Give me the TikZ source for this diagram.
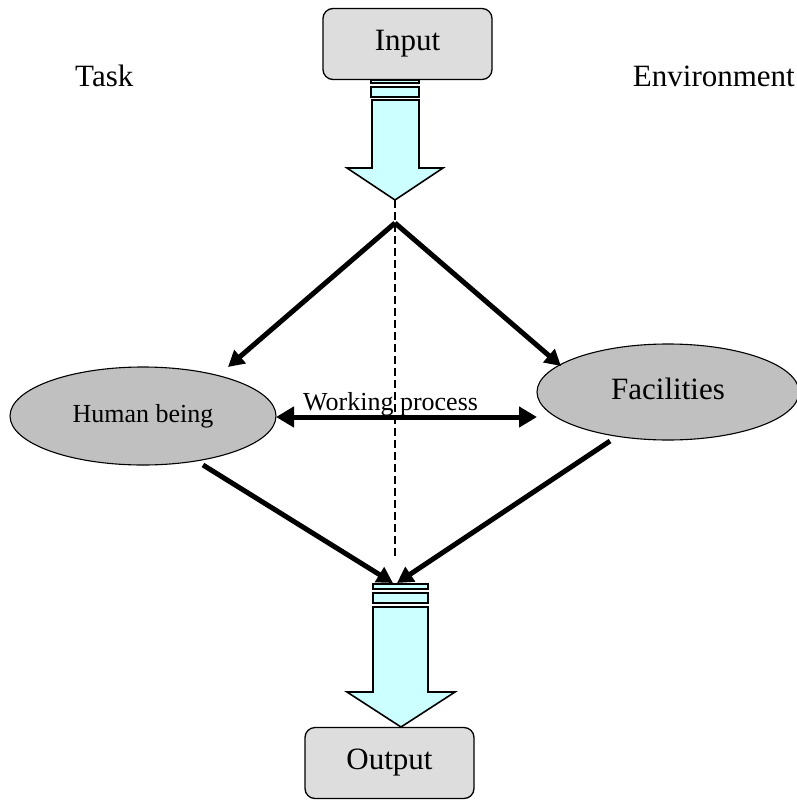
\documentclass[tikz,border=0pt]{standalone}
\usepackage{fontspec}
\setmainfont{Liberation Serif}
\usetikzlibrary{arrows.meta,shapes.geometric}
\definecolor{boxgray}{HTML}{DDDDDD}
\definecolor{ellgray}{HTML}{C0C0C0}
\definecolor{flowcyan}{HTML}{CCFFFF}

\begin{document}
\begin{tikzpicture}[x=1pt,y=-1pt,
  termbox/.style={draw, line width=1.3pt, rounded corners=10pt, fill=boxgray,
    minimum width=169pt, minimum height=71pt, inner sep=0pt,
    font=\fontsize{31}{36}\selectfont},
  agent/.style={draw, line width=1.1pt, ellipse, fill=ellgray, inner sep=0pt},
  bigtext/.style={inner sep=0pt, font=\fontsize{31}{36}\selectfont},
  smalltext/.style={inner sep=0pt, font=\fontsize{26}{30}\selectfont},
  blockarrow/.style={draw, line width=1.6pt, fill=flowcyan, line join=miter},
  flow/.style={line width=5pt, -{Triangle[length=16pt,width=17pt]}},
  twoway/.style={line width=5pt, {Triangle[length=18pt,width=20pt]}-{Triangle[length=18pt,width=20pt]}},
  guide/.style={line width=2pt, dash pattern=on 8pt off 4pt}
]
\useasboundingbox (0,0) rectangle (796,800);

% labels of the two domains
\node[bigtext, anchor=base west] (task) at (75,86) {Task};
\node[bigtext, anchor=base east] (env) at (795,86) {Environment};

% input and output terminals
\node[termbox] (in) at (407.5,44) {Input};
\node[termbox] (out) at (389.5,763) {Output};

% the two actors
\node[agent, minimum width=266pt, minimum height=98pt, font=\fontsize{26}{30}\selectfont]
  (hb) at (143,416) {\raisebox{6pt}{Human being}};
\node[agent, minimum width=262pt, minimum height=96pt, font=\fontsize{31}{36}\selectfont]
  (fac) at (668,392) {\raisebox{7pt}{Facilities}};

% block arrow below the input
\draw[blockarrow] (371,80) rectangle (419,83);
\draw[blockarrow] (371,87) rectangle (419,97);
\draw[blockarrow] (372,100) -- (419,100) -- (419,168) -- (443,168) -- (395,200)
  -- (347,168) -- (372,168) -- cycle;

% block arrow above the output
\draw[blockarrow] (373,584) rectangle (428,589);
\draw[blockarrow] (373,593) rectangle (428,603);
\draw[blockarrow] (373,607) -- (428,607) -- (428,692) -- (455,692) -- (401,727)
  -- (347,692) -- (373,692) -- cycle;

% connector end points
\coordinate (inTip) at (395,200);
\coordinate (guideEnd) at (395,557);
\coordinate (fork) at (395,223);
\coordinate (hbIn) at (228,367);
\coordinate (facIn) at (561,366);
\coordinate (hbOut) at (203,465);
\coordinate (facOut) at (610,441);
\coordinate (joinL) at (393,583);
\coordinate (joinR) at (397,583);
\coordinate (wpL) at (276,417);
\coordinate (wpR) at (537,417);

% dashed guide line through the centre
\draw[guide] (inTip) -- (guideEnd);

% flows between the actors
\draw[flow] (fork) -- (hbIn);
\draw[flow] (fork) -- (facIn);
\draw[flow] (hbOut) -- (joinL);
\draw[flow] (facOut) -- (joinR);
\draw[twoway] (wpL) -- (wpR);

\node[smalltext, anchor=base west] (wp) at (303,410) {Working process};
\end{tikzpicture}
\end{document}
